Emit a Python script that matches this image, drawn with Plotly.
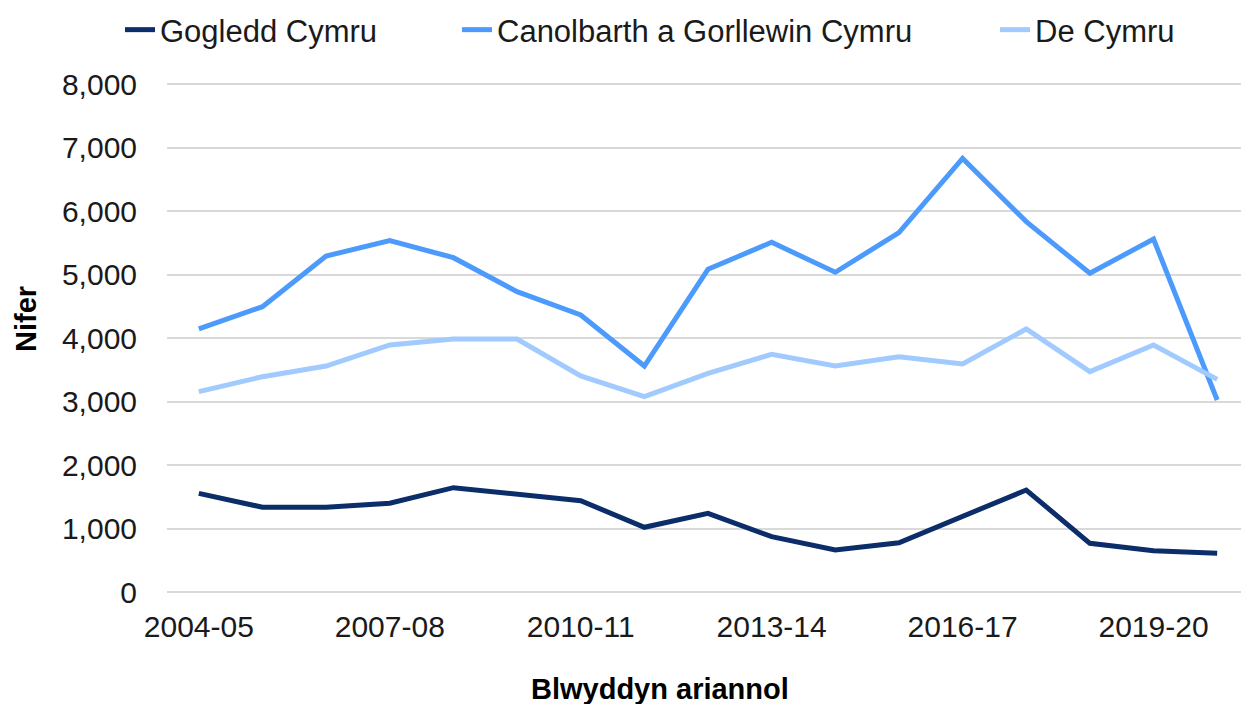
import plotly.graph_objects as go

years = ["2004-05", "2005-06", "2006-07", "2007-08", "2008-09", "2009-10",
         "2010-11", "2011-12", "2012-13", "2013-14", "2014-15", "2015-16",
         "2016-17", "2017-18", "2018-19", "2019-20", "2020-21"]

gogledd = [1554, 1334, 1334, 1397, 1643, 1538, 1438, 1019, 1239, 871,
           661, 776, 1193, 1606, 767, 650, 612]
canolbarth = [4142, 4493, 5291, 5533, 5265, 4730, 4362, 3559, 5082, 5507,
              5035, 5659, 6829, 5833, 5019, 5559, 3024]
de_cymru = [3155, 3391, 3559, 3890, 3984, 3984, 3402, 3076, 3443, 3743,
            3559, 3706, 3591, 4142, 3470, 3890, 3349]

names = ["Gogledd Cymru", "Canolbarth a Gorllewin Cymru", "De Cymru"]
colors = ["#0b2d69", "#4c9bfc", "#a1caff"]
tick_years = years[::3]

OFF = 8  # page body margin
W, H = 1249 - OFF, 704 - OFF
PXU = 63.5 / 1000  # pixels per unit
L, R = 167 - OFF, 0
T = 84 - OFF - 2          # plot top 2px above the 8,000 gridline
B = H - (592 - OFF + 2)   # plot bottom 2px below the 0 gridline
pw = W - L - R
ph = H - T - B
y_top = 8000 + 2 / PXU
y_bot = -2 / PXU

def px_x(p):  # p in reference page pixels -> plot-area paper fraction
    return (p - OFF - L) / pw

def px_y(p):
    return (H - B - (p - OFF)) / ph

def cx(p):  # container fraction
    return (p - OFF) / W

def cy(p):
    return 1 - (p - OFF) / H

FONT = "Liberation Sans, Arial, sans-serif"

fig = go.Figure()
legend_ids = ["legend", "legend2", "legend3"]
for i, (nm, vals, col) in enumerate(zip(names, [gogledd, canolbarth, de_cymru], colors)):
    fig.add_trace(go.Scatter(x=years, y=vals, mode="lines", name=nm,
                             line=dict(color=col, width=5),
                             legend=legend_ids[i]))

legend_common = dict(orientation="h", yanchor="middle", xanchor="left",
                     xref="container", yref="container",
                     font=dict(family=FONT, size=31, color="#1a1a1a"),
                     bgcolor="rgba(0,0,0,0)", borderwidth=0)
text_x = [160, 497, 1035]
layout_legends = {}
for i, lid in enumerate(legend_ids):
    layout_legends[lid] = dict(legend_common, x=cx(text_x[i] - 40), y=cy(30))

fig.update_layout(
    width=W, height=H,
    margin=dict(l=L, r=R, t=T, b=B, pad=0, autoexpand=False),
    paper_bgcolor="white", plot_bgcolor="white",
    font=dict(family=FONT, size=30, color="#1a1a1a"),
    showlegend=True,
    **layout_legends,
    xaxis=dict(type="category", range=[-0.5, len(years) - 0.5],
               tickmode="array", tickvals=tick_years, ticktext=tick_years,
               showgrid=False, showline=False, zeroline=False,
               ticks="", ticklabelstandoff=12, automargin=False,
               tickfont=dict(family=FONT, size=30, color="#1a1a1a")),
    yaxis=dict(range=[y_bot, y_top], tickmode="array",
               tickvals=[0, 1000, 2000, 3000, 4000, 5000, 6000, 7000, 8000],
               tickformat=",", automargin=False,
               showgrid=True, gridcolor="#d9d9d9", gridwidth=1.5,
               zeroline=False, showline=False, ticks="",
               ticklabelstandoff=29,
               tickfont=dict(family=FONT, size=30, color="#1a1a1a")),
    annotations=[
        dict(text="<b>Blwyddyn ariannol</b>", xref="paper", yref="paper",
             x=px_x(660), y=px_y(689), xanchor="center", yanchor="middle",
             showarrow=False, font=dict(family=FONT, size=29, color="#000000")),
        dict(text="<b>Nifer</b>", xref="paper", yref="paper",
             x=px_x(26), y=px_y(319), xanchor="center", yanchor="middle",
             textangle=-90, showarrow=False,
             font=dict(family=FONT, size=29, color="#000000")),
    ],
)

fig.write_html("out.html")
